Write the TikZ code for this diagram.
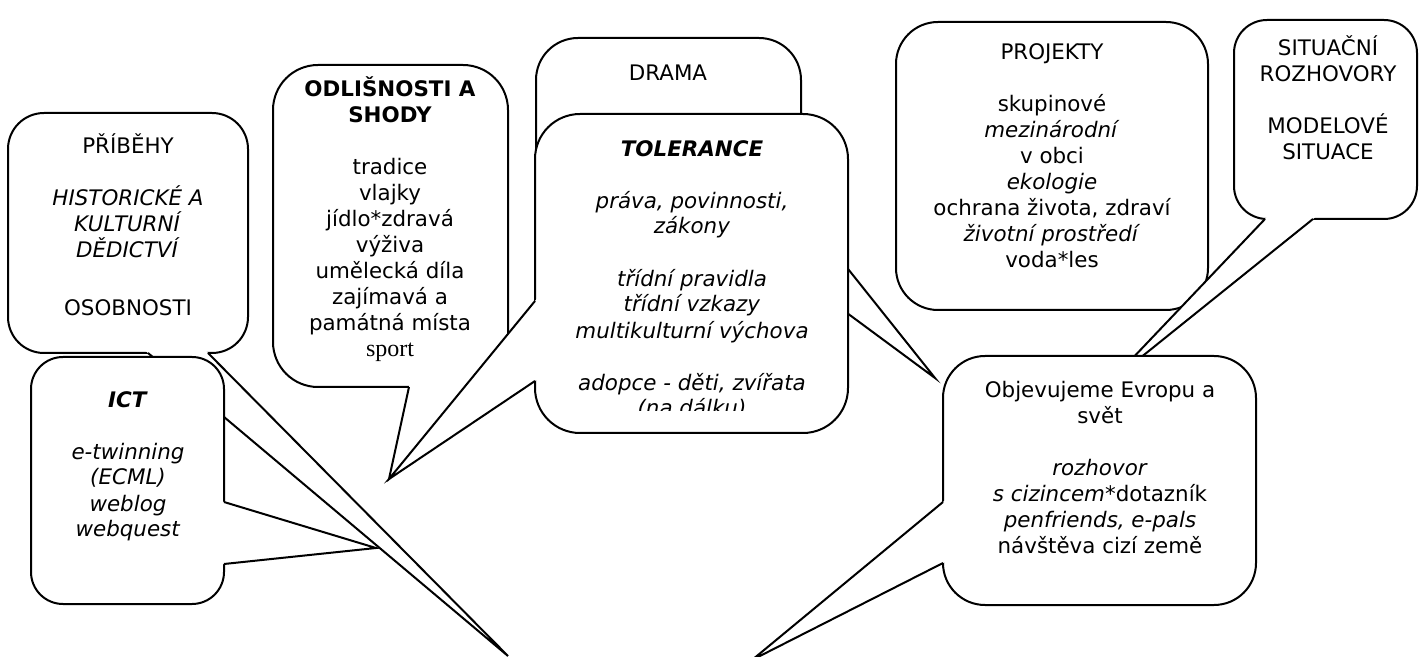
\documentclass[tikz,border=0pt]{standalone}
\usepackage{fontspec}
\setmainfont{DejaVu Sans}
\newfontfamily\timesfont{Liberation Serif}
\usetikzlibrary{calc}

\begin{document}
\begin{tikzpicture}[
    x=0.5pt, y=-0.5pt,
    bubble/.style={rectangle, draw, fill=white, line width=1pt, rounded corners=#1, inner sep=0pt},
    bubble/.default=20pt,
    % text blocks are placed by the baseline of their last line
    txt/.style={align=center, inner sep=0pt, anchor=base, font=\fontsize{10.7}{13}\selectfont},
    wedge/.style={draw, line width=1pt, line join=miter}
]
\useasboundingbox (0,0) rectangle (1419,657);
\clip (0,0) rectangle (1419,657);

% Pribehy
\node[bubble=18pt, minimum width=120pt, minimum height=120pt] (pribehy) at (128,233) {};
\coordinate (pribehy-tip) at (508,656);
\fill[white] ($(pribehy-tip)!1.03!(148,353)$) -- (pribehy-tip) -- ($(pribehy-tip)!1.03!(208,353)$) -- cycle;
\draw[wedge] (148,353) -- (pribehy-tip) -- (208,353);
\node[txt] (pribehy-t) at (128,316) {PŘÍBĚHY\\[13pt]
    \textit{HISTORICKÉ A}\\ \textit{KULTURNÍ}\\ \textit{DĚDICTVÍ}\\[16pt]
    OSOBNOSTI};

% ICT
\node[bubble=16pt, minimum width=96.5pt, minimum height=123.5pt] (ict) at (127.5,480.5) {};
\coordinate (ict-tip) at (376,548);
\fill[white] ($(ict-tip)!1.03!(224,502)$) -- (ict-tip) -- ($(ict-tip)!1.03!(224,564)$) -- cycle;
\draw[wedge] (224,502) -- (ict-tip) -- (224,564);
\node[txt] (ict-t) at (128,537) {\textbf{\textit{ICT}}\\[13pt]
    \textit{e-twinning}\\ \textit{(ECML)}\\ \textit{weblog}\\ \textit{webquest}};

% Odlisnosti a shody
\node[bubble=22.5pt, minimum width=117.5pt, minimum height=161pt] (odlisnosti) at (390.5,226) {};
\coordinate (odlisnosti-tip) at (389,479);
\fill[white] ($(odlisnosti-tip)!1.03!(409,387)$) -- (odlisnosti-tip) -- ($(odlisnosti-tip)!1.03!(480,387)$) -- cycle;
\draw[wedge] (409,387) -- (odlisnosti-tip) -- (480,387);
\node[txt] (odlisnosti-t) at (390,357) {\textbf{ODLIŠNOSTI A}\\ \textbf{SHODY}\\[13pt]
    tradice\\ vlajky\\ jídlo*zdravá\\ výživa\\ umělecká díla\\ zajímavá a\\ památná místa\\
    {\timesfont\fontsize{12}{13}\selectfont sport}};

% Drama
\node[bubble=21pt, minimum width=132.5pt, minimum height=181pt] (drama) at (668.5,219) {};
\coordinate (drama-tip) at (935,378);
\fill[white] ($(drama-tip)!1.03!(801,210)$) -- (drama-tip) -- ($(drama-tip)!1.03!(801,279)$) -- cycle;
\draw[wedge] (801,210) -- (drama-tip) -- (801,279);
\node[txt] (drama-t) at (668,81) {DRAMA};

% Tolerance
\node[bubble=22.5pt, minimum width=156.5pt, minimum height=159.5pt] (tolerance) at (691.5,273.5) {};
\coordinate (tolerance-tip) at (389,479);
\fill[white] ($(tolerance-tip)!1.03!(535,301)$) -- (tolerance-tip) -- ($(tolerance-tip)!1.03!(535,381)$) -- cycle;
\draw[wedge] (535,301) -- (tolerance-tip) -- (535,381);
\begin{scope}
  \clip (537,118) rectangle (846,411);
  \node[txt] (tolerance-t) at (692,416) {\textbf{\textit{TOLERANCE}}\\[13pt]
      \textit{práva, povinnosti,}\\ \textit{zákony}\\[13pt]
      \textit{třídní pravidla}\\ \textit{třídní vzkazy}\\ \textit{multikulturní výchova}\\[13pt]
      \textit{adopce - děti, zvířata}\\ \textit{(na dálku)}};
\end{scope}

% Projekty
\node[bubble=21pt, minimum width=156pt, minimum height=144pt] (projekty) at (1052,166) {};
\node[txt] (projekty-t) at (1052,268) {PROJEKTY\\[13pt]
    skupinové\\ \textit{mezinárodní}\\ v obci\\ \textit{ekologie}\\
    ochrana života, zdraví\\ \textit{životní prostředí}\\ voda*les};

% Situacni rozhovory
\node[bubble=16.5pt, minimum width=91.5pt, minimum height=99.5pt] (situacni) at (1325.5,119.5) {};
\coordinate (situacni-tip) at (1109,383);
\fill[white] ($(situacni-tip)!1.03!(1265,219)$) -- (situacni-tip) -- ($(situacni-tip)!1.03!(1313,219)$) -- cycle;
\draw[wedge] (1265,219) -- (situacni-tip) -- (1313,219);
\node[txt] (situacni-t) at (1328,160) {SITUAČNÍ\\ ROZHOVORY\\[13pt] MODELOVÉ\\ SITUACE};

% Objevujeme Evropu a svet
\node[bubble=21pt, minimum width=156.5pt, minimum height=124.5pt] (evropa) at (1099.5,480.5) {};
\coordinate (evropa-tip) at (752,660);
\fill[white] ($(evropa-tip)!1.03!(943,502)$) -- (evropa-tip) -- ($(evropa-tip)!1.03!(943,563)$) -- cycle;
\draw[wedge] (943,502) -- (evropa-tip) -- (943,563);
\node[txt] (evropa-t) at (1100,553) {Objevujeme Evropu a\\ svět\\[13pt]
    \textit{rozhovor}\\ \textit{s cizincem}*dotazník\\ \textit{penfriends, e-pals}\\ návštěva cizí země};

\end{tikzpicture}
\end{document}
